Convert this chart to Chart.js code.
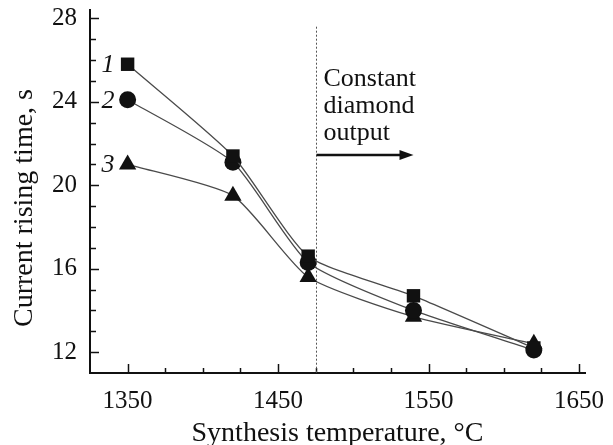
<!DOCTYPE html>
<html>
<head>
<meta charset="utf-8">
<script src="https://cdn.jsdelivr.net/npm/chart.js@4.4.0/dist/chart.umd.min.js"></script>
<style>
  html, body { margin: 0; padding: 0; background: #fff; }
</style>
</head>
<body>
<canvas id="chart" width="613" height="445"></canvas>
<script>
// Data
const temperatures = [1350, 1420, 1470, 1540, 1620];
const series1 = [25.8, 21.4, 16.6, 14.7, 12.2];
const series2 = [24.1, 21.1, 16.3, 14.0, 12.1];
const series3 = [21.0, 19.5, 15.6, 13.7, 12.4];
const seriesNames = ['1', '2', '3'];
const seriesMarkers = ['rect', 'circle', 'triangle'];
const xTickLabels = [1350, 1450, 1550, 1650];
const yTickLabels = [12, 16, 20, 24, 28];
const boundaryTemp = 1475;
const noteLines = ['Constant', 'diamond', 'output'];
const yTitle = 'Current rising time, s';
const xTitle = 'Synthesis temperature, °C';

const FONT = 'Liberation Serif';

function toPoints(values) {
    return temperatures.map((t, i) => ({ x: t, y: values[i] }));
}

const markerRadius = { rect: 9.5, circle: 8.5, triangle: 10 };

const datasets = [series1, series2, series3].map((values, i) => ({
    label: seriesNames[i],
    data: toPoints(values),
    borderColor: '#4a4a4a',
    borderWidth: 1.3,
    backgroundColor: '#111',
    pointBackgroundColor: '#111',
    pointBorderColor: '#111',
    pointBorderWidth: 0,
    pointStyle: seriesMarkers[i],
    pointRadius: markerRadius[seriesMarkers[i]],
    tension: 0.2,
    fill: false
}));

// Inward tick marks, boundary line, arrow and text notes
const decorations = {
    id: 'decorations',
    afterDraw(chart) {
        const ctx = chart.ctx;
        const xs = chart.scales.x;
        const ys = chart.scales.y;
        const area = chart.chartArea;
        ctx.save();

        // ticks
        ctx.strokeStyle = '#111';
        ctx.lineWidth = 1.5;
        xs.ticks.forEach(t => {
            const px = Math.round(xs.getPixelForValue(t.value)) + 0.5;
            const len = xTickLabels.includes(t.value) ? 9 : 5;
            ctx.beginPath();
            ctx.moveTo(px, area.bottom);
            ctx.lineTo(px, area.bottom - len);
            ctx.stroke();
        });
        ys.ticks.forEach(t => {
            const py = Math.round(ys.getPixelForValue(t.value)) + 0.5;
            const len = yTickLabels.includes(t.value) ? 9 : 6;
            ctx.beginPath();
            ctx.moveTo(area.left, py);
            ctx.lineTo(area.left + len, py);
            ctx.stroke();
        });

        // dashed boundary line
        const bx = Math.round(xs.getPixelForValue(boundaryTemp)) + 0.5;
        ctx.strokeStyle = '#555';
        ctx.lineWidth = 1;
        ctx.setLineDash([2, 2]);
        ctx.beginPath();
        ctx.moveTo(bx, ys.getPixelForValue(27.6));
        ctx.lineTo(bx, area.bottom);
        ctx.stroke();
        ctx.setLineDash([]);

        // arrow
        const ay = ys.getPixelForValue(21.45);
        const ax2 = xs.getPixelForValue(1540);
        ctx.strokeStyle = '#111';
        ctx.fillStyle = '#111';
        ctx.lineWidth = 2.5;
        ctx.beginPath();
        ctx.moveTo(bx, ay);
        ctx.lineTo(ax2 - 12, ay);
        ctx.stroke();
        ctx.beginPath();
        ctx.moveTo(ax2, ay);
        ctx.lineTo(ax2 - 14, ay - 5);
        ctx.lineTo(ax2 - 14, ay + 5);
        ctx.closePath();
        ctx.fill();

        // note text
        ctx.font = '26px "' + FONT + '"';
        ctx.textAlign = 'left';
        ctx.textBaseline = 'alphabetic';
        noteLines.forEach((line, i) => {
            ctx.fillText(line, bx + 7, 86 + i * 27);
        });

        // series numbers
        ctx.font = 'italic 26px "' + FONT + '"';
        ctx.textAlign = 'center';
        ctx.textBaseline = 'middle';
        const labelX = xs.getPixelForValue(1337);
        [series1, series2, series3].forEach((values, i) => {
            ctx.fillText(seriesNames[i], labelX, ys.getPixelForValue(values[0]) + 1);
        });

        // y axis title
        ctx.font = '28px "' + FONT + '"';
        ctx.textBaseline = 'alphabetic';
        ctx.textAlign = 'center';
        ctx.translate(32, 208);
        ctx.rotate(-Math.PI / 2);
        ctx.fillText(yTitle, 0, 0);
        ctx.restore();
    }
};

function drawChart() {
    new Chart(document.getElementById('chart'), {
        type: 'line',
        data: { datasets: datasets },
        options: {
            responsive: false,
            animation: false,
            layout: { padding: { top: 9, right: 28, left: 0, bottom: 0 } },
            plugins: {
                legend: { display: false },
                tooltip: { enabled: false }
            },
            scales: {
                x: {
                    type: 'linear',
                    min: 1325,
                    max: 1654,
                    afterBuildTicks: s => { s.ticks = s.ticks.filter(t => t.value % 25 === 0 && t.value > 1325); },
                    afterFit: s => { s.height = 72; s.paddingLeft = 0; s.paddingRight = 0; },
                    grid: { display: false, drawTicks: false },
                    border: { display: true, color: '#111', width: 2 },
                    ticks: {
                        stepSize: 25,
                        includeBounds: false,
                        autoSkip: false,
                        maxRotation: 0,
                        padding: 13,
                        color: '#111',
                        font: { family: FONT, size: 25 },
                        callback: v => xTickLabels.includes(v) ? String(v) : ''
                    },
                    title: {
                        display: true,
                        text: xTitle,
                        color: '#111',
                        padding: { top: 0, bottom: -3 },
                        font: { family: FONT, size: 28, lineHeight: 1 }
                    }
                },
                y: {
                    min: 11,
                    max: 28.4,
                    afterBuildTicks: s => { s.ticks = s.ticks.filter(t => Number.isInteger(t.value) && t.value > 11); },
                    afterFit: s => { s.width = 90; s.paddingTop = 0; s.paddingBottom = 0; },
                    grid: { display: false, drawTicks: false },
                    border: { display: true, color: '#111', width: 2 },
                    ticks: {
                        stepSize: 1,
                        includeBounds: false,
                        autoSkip: false,
                        padding: 13,
                        color: '#111',
                        font: { family: FONT, size: 25 },
                        callback: v => yTickLabels.includes(v) ? String(v) : ''
                    }
                }
            }
        },
        plugins: [decorations]
    });
}

if (document.fonts && document.fonts.load) {
    Promise.all([
        document.fonts.load('24px "' + FONT + '"'),
        document.fonts.load('italic 24px "' + FONT + '"')
    ]).then(drawChart, drawChart);
} else {
    drawChart();
}
</script>
</body>
</html>
